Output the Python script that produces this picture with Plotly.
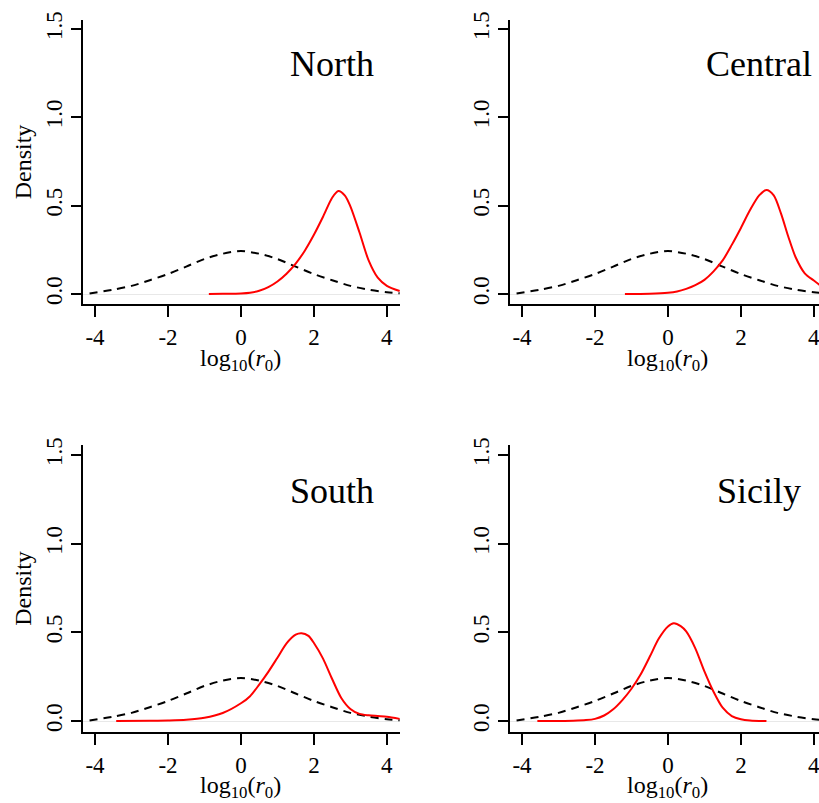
import plotly.graph_objects as go

W, H = 819, 803

# ---- data ----
regions = ["North", "Central", "South", "Sicily"]

prior_x = [-4.15, -3.5, -3.0, -2.5, -2.0, -1.5, -1.0, -0.5, 0.0, 0.5, 1.0, 1.5, 2.0, 2.5, 3.0, 3.5, 4.0, 4.35]
prior_y = [0.003, 0.025, 0.046, 0.078, 0.113, 0.155, 0.198, 0.228, 0.243, 0.228, 0.198, 0.155, 0.113, 0.078, 0.046, 0.025, 0.010, 0.004]

north_x = [-0.88, -0.5, 0.0, 0.25, 0.5, 0.75, 1.0, 1.25, 1.5, 1.75, 2.0, 2.25, 2.5, 2.67, 2.85, 3.0, 3.25, 3.5, 3.75, 4.0, 4.35]
north_y = [0.0, 0.001, 0.003, 0.007, 0.018, 0.039, 0.071, 0.115, 0.172, 0.245, 0.335, 0.437, 0.545, 0.583, 0.557, 0.496, 0.348, 0.19, 0.092, 0.046, 0.017]

central_x = [-1.18, -0.5, 0.0, 0.25, 0.5, 0.75, 1.0, 1.25, 1.5, 1.75, 2.0, 2.25, 2.5, 2.7, 2.9, 3.1, 3.3, 3.5, 3.75, 4.0, 4.2, 4.35]
central_y = [0.0, 0.002, 0.007, 0.014, 0.029, 0.05, 0.08, 0.128, 0.19, 0.278, 0.374, 0.475, 0.558, 0.589, 0.558, 0.455, 0.324, 0.208, 0.117, 0.076, 0.045, 0.025]

south_x = [-3.42, -2.5, -2.0, -1.5, -1.0, -0.5, 0.0, 0.25, 0.5, 0.75, 1.0, 1.25, 1.5, 1.66, 1.85, 2.0, 2.25, 2.5, 2.75, 3.0, 3.25, 3.5, 3.75, 4.0, 4.35]
south_y = [0.0, 0.001, 0.003, 0.007, 0.018, 0.045, 0.10, 0.14, 0.205, 0.277, 0.357, 0.438, 0.487, 0.495, 0.48, 0.44, 0.352, 0.237, 0.13, 0.068, 0.04, 0.032, 0.028, 0.024, 0.012]

sicily_x = [-3.58, -2.6, -2.25, -2.0, -1.75, -1.5, -1.25, -1.0, -0.75, -0.5, -0.25, 0.0, 0.16, 0.35, 0.5, 0.75, 1.0, 1.25, 1.5, 1.75, 2.0, 2.25, 2.7]
sicily_y = [0.0, 0.002, 0.005, 0.012, 0.031, 0.066, 0.118, 0.182, 0.262, 0.362, 0.465, 0.533, 0.551, 0.535, 0.505, 0.41, 0.28, 0.165, 0.075, 0.028, 0.01, 0.003, 0.0]

post_x = [north_x, central_x, south_x, sicily_x]
post_y = [north_y, central_y, south_y, sicily_y]

x_ticks = [-4, -2, 0, 2, 4]
x_tick_text = ["-4", "-2", "0", "2", "4"]
y_ticks = [0, 0.5, 1.0, 1.5]
y_tick_text = ["0.0", "0.5", "1.0", "1.5"]
label_x, label_y = 2.5, 1.3
x_title = "log<sub>10</sub>(<i>r</i><sub>0</sub>)"
y_title = "Density"

# ---- layout geometry (page pixels) ----
FONT = "Liberation Serif, Times New Roman, serif"
col_px = [(83, 400, 4.36), (510, 827, 4.36)]   # left px, right px (plot area), x max
row_px = [(20, 304, -0.0566, 1.5507, 359.5), (445, 732, -0.062, 1.5567, 787)]


def fx(px):
    return px / W


def fy(px):
    return 1 - px / H


fig = go.Figure()
layout = dict(
    width=W, height=H, template="none",
    margin=dict(l=0, r=0, t=0, b=0),
    paper_bgcolor="white", plot_bgcolor="white",
    showlegend=False, annotations=[],
)

for i, name in enumerate(regions):
    r, c = divmod(i, 2)
    k = "" if i == 0 else str(i + 1)
    xa, ya = "x" + k, "y" + k
    fig.add_trace(go.Scatter(x=prior_x, y=prior_y, mode="lines", xaxis=xa, yaxis=ya,
                             line=dict(color="black", width=2, dash="8px,6px", shape="spline", smoothing=0.8)))
    fig.add_trace(go.Scatter(x=post_x[i], y=post_y[i], mode="lines", xaxis=xa, yaxis=ya,
                             line=dict(color="#ff0000", width=2, shape="spline", smoothing=0.8)))
    lpx, rpx, xmax = col_px[c]
    tpx, bpx, ymin, ymax, title_px = row_px[r]
    right = min(rpx, W)
    xmax_vis = -4.33 + (xmax + 4.33) * (right - lpx) / (rpx - lpx)
    layout["xaxis" + k] = dict(
        domain=[fx(lpx), fx(right)], range=[-4.33, xmax_vis], anchor=ya,
        tickvals=x_ticks, ticktext=x_tick_text, ticklabeloverflow="allow",
        showline=True, linecolor="black", linewidth=2, mirror=False,
        ticks="outside", ticklen=11, tickwidth=2, tickcolor="black",
        showgrid=False, zeroline=False, automargin=False, layer="below traces",
        tickfont=dict(family=FONT, size=23, color="black"),
    )
    layout["yaxis" + k] = dict(
        domain=[fy(bpx), fy(tpx)], range=[ymin, ymax], anchor=xa,
        tickvals=y_ticks, ticktext=y_tick_text, tickangle=-90,
        showline=True, linecolor="black", linewidth=2,
        ticks="outside", ticklen=10, tickwidth=2, tickcolor="black",
        showgrid=False, zeroline=True, zerolinecolor="#e8e8e8", zerolinewidth=1,
        automargin=False, layer="below traces",
        tickfont=dict(family=FONT, size=23, color="black"),
        title=dict(text=y_title if c == 0 else "", standoff=3,
                   font=dict(family=FONT, size=24, color="black")),
    )
    # x-axis title, centred under x = 0 of the panel
    layout["annotations"].append(dict(
        x=0, y=fy(title_px), xref=xa, yref="paper", text=x_title, showarrow=False,
        xanchor="center", yanchor="middle",
        font=dict(family=FONT, size=24, color="black")))
    # region label
    layout["annotations"].append(dict(
        x=label_x, y=label_y, xref=xa, yref=ya, text=name, showarrow=False,
        xanchor="center", yanchor="middle",
        font=dict(family=FONT, size=36, color="black")))

fig.update_layout(**layout)
fig.write_html(
    "out.html",
    config={"displayModeBar": False},
    post_script="document.body.style.margin='0';"
                "document.documentElement.style.overflow='hidden';",
)
